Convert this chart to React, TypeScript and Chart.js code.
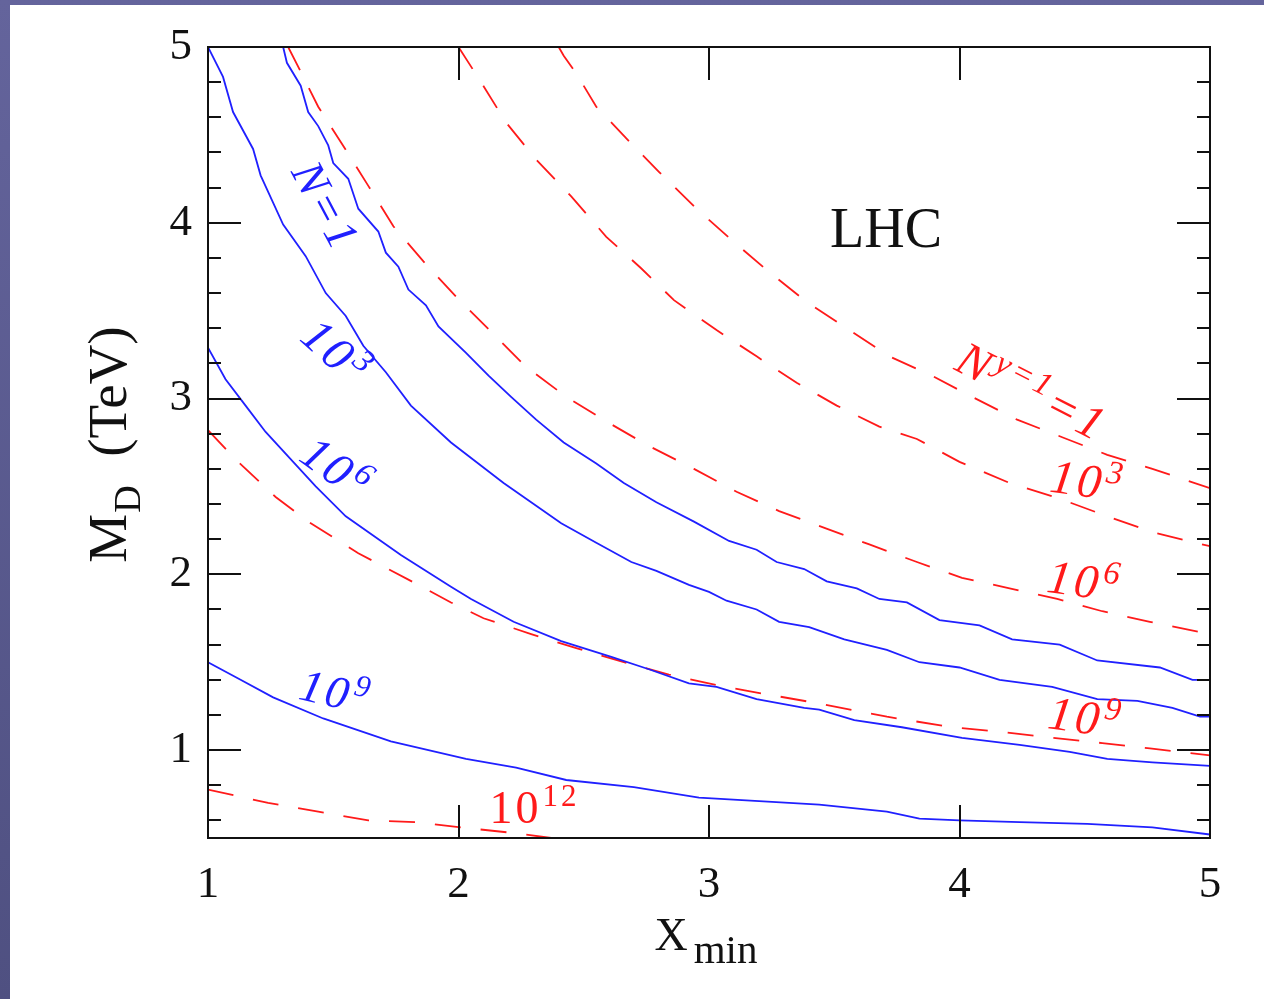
import React, { useEffect, useRef } from "react";
import { Chart, registerables } from "chart.js";

Chart.register(...registerables);

// ---- axis ticks ----
const xMajorTicks = [1, 2, 3, 4, 5];
const yMajorTicks = [1, 2, 3, 4, 5];
const yMinorTicks = [0.6, 0.8, 1.2, 1.4, 1.6, 1.8, 2.2, 2.4, 2.6, 2.8, 3.2, 3.4, 3.6, 3.8, 4.2, 4.4, 4.6, 4.8];

// ---- blue solid curves (N = 1, 10^3, 10^6, 10^9) ----
const blueN1X = [1.30, 1.315, 1.37, 1.40, 1.44, 1.48, 1.50, 1.56, 1.60, 1.68, 1.71, 1.76, 1.80, 1.87, 1.92, 2.03, 2.12, 2.21, 2.31, 2.42, 2.55, 2.66, 2.79, 2.94, 3.08, 3.19, 3.27, 3.38, 3.47, 3.59, 3.68, 3.79, 3.92, 4.08, 4.21, 4.40, 4.55, 4.80, 4.93, 5.00];
const blueN1Y = [5.00, 4.91, 4.78, 4.63, 4.55, 4.44, 4.34, 4.25, 4.08, 3.95, 3.83, 3.75, 3.62, 3.53, 3.41, 3.26, 3.13, 3.01, 2.88, 2.75, 2.63, 2.52, 2.41, 2.30, 2.19, 2.14, 2.07, 2.03, 1.96, 1.92, 1.86, 1.84, 1.74, 1.71, 1.63, 1.60, 1.51, 1.47, 1.40, 1.40];

const blueE3X = [1.00, 1.06, 1.10, 1.18, 1.21, 1.30, 1.39, 1.47, 1.55, 1.62, 1.71, 1.81, 1.97, 2.18, 2.41, 2.55, 2.69, 2.79, 2.92, 3.00, 3.07, 3.19, 3.28, 3.40, 3.54, 3.71, 3.84, 4.00, 4.16, 4.37, 4.55, 4.71, 4.85, 4.96, 5.00];
const blueE3Y = [5.00, 4.83, 4.63, 4.42, 4.27, 3.99, 3.81, 3.60, 3.47, 3.30, 3.15, 2.96, 2.75, 2.52, 2.29, 2.18, 2.07, 2.02, 1.94, 1.90, 1.85, 1.80, 1.73, 1.70, 1.63, 1.57, 1.50, 1.47, 1.40, 1.36, 1.29, 1.28, 1.24, 1.19, 1.19];

const blueE6X = [1.00, 1.07, 1.15, 1.23, 1.34, 1.43, 1.55, 1.77, 1.97, 2.05, 2.22, 2.41, 2.61, 2.76, 2.92, 3.03, 3.19, 3.38, 3.44, 3.58, 3.77, 4.01, 4.24, 4.44, 4.59, 4.77, 5.00];
const blueE6Y = [3.29, 3.11, 2.96, 2.81, 2.64, 2.50, 2.33, 2.11, 1.93, 1.86, 1.73, 1.62, 1.53, 1.46, 1.38, 1.36, 1.29, 1.24, 1.23, 1.17, 1.13, 1.07, 1.03, 0.99, 0.95, 0.93, 0.91];

const blueE9X = [1.00, 1.13, 1.26, 1.46, 1.73, 2.03, 2.23, 2.43, 2.70, 2.96, 3.20, 3.44, 3.71, 3.84, 4.00, 4.24, 4.51, 4.77, 5.00];
const blueE9Y = [1.50, 1.40, 1.30, 1.18, 1.05, 0.95, 0.90, 0.83, 0.79, 0.73, 0.71, 0.69, 0.65, 0.61, 0.60, 0.59, 0.58, 0.56, 0.52];

// ---- red dashed curves (N^{y=1} = 1, 10^3, 10^6, 10^9, 10^12) ----
const redN1X = [2.40, 2.42, 2.47, 2.55, 2.67, 2.80, 2.95, 3.10, 3.24, 3.39, 3.56, 3.72, 3.89, 4.05, 4.23, 4.41, 4.59, 4.77, 5.00];
const redN1Y = [5.00, 4.95, 4.85, 4.66, 4.48, 4.29, 4.08, 3.89, 3.72, 3.55, 3.39, 3.24, 3.13, 3.01, 2.88, 2.78, 2.68, 2.60, 2.49];

const redE3X = [2.00, 2.09, 2.19, 2.31, 2.45, 2.59, 2.73, 2.86, 3.03, 3.19, 3.35, 3.51, 3.68, 3.83, 4.00, 4.20, 4.40, 4.59, 4.77, 5.00];
const redE3Y = [5.00, 4.80, 4.57, 4.36, 4.15, 3.92, 3.74, 3.56, 3.39, 3.24, 3.09, 2.96, 2.84, 2.77, 2.64, 2.52, 2.43, 2.33, 2.24, 2.16];

const redE6X = [1.32, 1.37, 1.44, 1.53, 1.64, 1.74, 1.86, 1.99, 2.13, 2.27, 2.43, 2.59, 2.76, 2.94, 3.11, 3.28, 3.45, 3.64, 3.83, 4.01, 4.20, 4.39, 4.57, 4.76, 5.00];
const redE6Y = [5.00, 4.86, 4.66, 4.46, 4.21, 3.98, 3.78, 3.58, 3.38, 3.18, 3.01, 2.87, 2.73, 2.60, 2.47, 2.36, 2.27, 2.17, 2.07, 1.98, 1.92, 1.86, 1.79, 1.73, 1.66];

const redE9X = [1.00, 1.12, 1.27, 1.40, 1.60, 1.80, 1.97, 2.10, 2.29, 2.47, 2.66, 2.84, 3.03, 3.22, 3.42, 3.71, 3.97, 4.19, 4.37, 4.57, 4.76, 5.00];
const redE9Y = [2.82, 2.64, 2.44, 2.30, 2.12, 1.97, 1.84, 1.75, 1.66, 1.58, 1.50, 1.43, 1.37, 1.32, 1.27, 1.19, 1.13, 1.10, 1.07, 1.04, 1.01, 0.97];

const redE12X = [1.00, 1.24, 1.44, 1.64, 1.83, 2.01, 2.21, 2.37];
const redE12Y = [0.775, 0.70, 0.65, 0.60, 0.59, 0.56, 0.53, 0.50];

// ---- curve labels at data coordinates ----
const BLUE = "#2020ff";
const RED = "#ff1a1a";
const SERIF = '"Liberation Serif", "DejaVu Serif", serif';

type Label = { x: number; y: number; rot: number; color: string; base: string; sup: string; tail: string; size: number; italic: boolean };
const curveLabels: Label[] = [
  { x: 1.471, y: 4.095, rot: 62, color: BLUE, base: "N=1", sup: "", tail: "", size: 46, italic: true },
  { x: 1.515, y: 3.26, rot: 42, color: BLUE, base: "10", sup: "3", tail: "", size: 48, italic: true },
  { x: 1.515, y: 2.60, rot: 36, color: BLUE, base: "10", sup: "6", tail: "", size: 48, italic: true },
  { x: 1.511, y: 1.33, rot: 13, color: BLUE, base: "10", sup: "9", tail: "", size: 46, italic: true },
  { x: 4.29, y: 3.04, rot: 27, color: RED, base: "N", sup: "y=1", tail: "=1", size: 48, italic: true },
  { x: 4.513, y: 2.53, rot: 8, color: RED, base: "10", sup: "3", tail: "", size: 48, italic: true },
  { x: 4.501, y: 1.96, rot: 8, color: RED, base: "10", sup: "6", tail: "", size: 48, italic: true },
  { x: 4.505, y: 1.185, rot: 8, color: RED, base: "10", sup: "9", tail: "", size: 48, italic: true },
  { x: 2.305, y: 0.672, rot: 0, color: RED, base: "10", sup: "12", tail: "", size: 46, italic: false },
];

function zip(xs: number[], ys: number[]) {
  return xs.map((x, i) => ({ x, y: ys[i] }));
}

function drawLabel(ctx: CanvasRenderingContext2D, cx: number, cy: number, l: Label) {
  const st = l.italic ? "italic " : "";
  const fb = `${st}${l.size}px ${SERIF}`;
  const fs = `${st}${Math.round(l.size * 0.68)}px ${SERIF}`;
  ctx.save();
  ctx.translate(cx, cy);
  ctx.rotate((l.rot * Math.PI) / 180);
  ctx.fillStyle = l.color;
  ctx.textBaseline = "alphabetic";
  ctx.textAlign = "left";
  (ctx as any).letterSpacing = "3px";
  ctx.font = fb;
  const wb = ctx.measureText(l.base).width;
  const wt = l.tail ? ctx.measureText(l.tail).width : 0;
  ctx.font = fs;
  const ws = l.sup ? ctx.measureText(l.sup).width : 0;
  const total = wb + ws + wt + (l.sup ? 2 : 0);
  let px = -total / 2;
  const bl = l.size * 0.33;
  ctx.font = fb;
  ctx.fillText(l.base, px, bl);
  px += wb + 1;
  if (l.sup) {
    ctx.font = fs;
    ctx.fillText(l.sup, px, bl - l.size * 0.36);
    px += ws + 1;
  }
  if (l.tail) {
    ctx.font = fb;
    ctx.fillText(l.tail, px, bl);
  }
  ctx.restore();
}

const decorPlugin = {
  id: "decor",
  beforeDraw(chart: any) {
    const ctx = chart.ctx as CanvasRenderingContext2D;
    const W = chart.width, H = chart.height;
    ctx.save();
    const g = ctx.createLinearGradient(0, 0, 0, H);
    g.addColorStop(0, "#64649c");
    g.addColorStop(1, "#4f5081");
    ctx.fillStyle = g;
    ctx.fillRect(0, 0, W, H);
    ctx.fillStyle = "#ffffff";
    ctx.fillRect(10, 5, W - 10, H - 5);
    ctx.restore();
  },
  afterDatasetsDraw(chart: any) {
    const ctx = chart.ctx as CanvasRenderingContext2D;
    const ca = chart.chartArea;
    const xs = chart.scales.x;
    const ys = chart.scales.y;
    ctx.save();
    ctx.strokeStyle = "#111";
    ctx.lineWidth = 2;
    ctx.strokeRect(ca.left, ca.top, ca.right - ca.left, ca.bottom - ca.top);
    ctx.beginPath();
    const major = 33, minor = 13;
    for (const v of xMajorTicks) {
      const p = Math.round(xs.getPixelForValue(v));
      ctx.moveTo(p, ca.bottom); ctx.lineTo(p, ca.bottom - major);
      ctx.moveTo(p, ca.top); ctx.lineTo(p, ca.top + major);
    }
    for (const v of yMajorTicks) {
      const p = Math.round(ys.getPixelForValue(v));
      ctx.moveTo(ca.left, p); ctx.lineTo(ca.left + major, p);
      ctx.moveTo(ca.right, p); ctx.lineTo(ca.right - major, p);
    }
    for (const v of yMinorTicks) {
      const p = Math.round(ys.getPixelForValue(v));
      ctx.moveTo(ca.left, p); ctx.lineTo(ca.left + minor, p);
      ctx.moveTo(ca.right, p); ctx.lineTo(ca.right - minor, p);
    }
    ctx.stroke();

    // curve labels
    for (const l of curveLabels) {
      drawLabel(ctx, xs.getPixelForValue(l.x), ys.getPixelForValue(l.y), l);
    }

    // LHC
    ctx.fillStyle = "#111";
    ctx.font = `56px ${SERIF}`;
    ctx.textAlign = "left";
    ctx.textBaseline = "alphabetic";
    ctx.fillText("LHC", xs.getPixelForValue(3.483), ys.getPixelForValue(3.861));

    // X axis title: X_min
    const cxm = (ca.left + ca.right) / 2 - 3;
    const bx = ca.bottom + 112;
    ctx.font = `46px ${SERIF}`;
    const wX = ctx.measureText("X").width;
    ctx.font = `41px ${SERIF}`;
    const wMin = ctx.measureText("min").width;
    const sx = cxm - (wX + wMin + 6) / 2;
    ctx.font = `46px ${SERIF}`;
    ctx.fillText("X", sx, bx);
    ctx.font = `41px ${SERIF}`;
    ctx.fillText("min", sx + wX + 6, bx + 13);

    // Y axis title: M_D (TeV)
    ctx.save();
    ctx.translate(ca.left - 82, (ca.top + ca.bottom) / 2 + 2);
    ctx.rotate(-Math.PI / 2);
    ctx.font = `55px ${SERIF}`;
    const wM = ctx.measureText("M").width;
    const wT = ctx.measureText("  (TeV)").width;
    ctx.font = `38px ${SERIF}`;
    const wD = ctx.measureText("D").width;
    const ty = -(wM + wD + wT + 2) / 2;
    ctx.font = `55px ${SERIF}`;
    ctx.fillText("M", ty, 0);
    ctx.font = `38px ${SERIF}`;
    ctx.fillText("D", ty + wM + 1, 14);
    ctx.font = `55px ${SERIF}`;
    ctx.fillText("  (TeV)", ty + wM + wD + 2, 0);
    ctx.restore();

    ctx.restore();
  },
};

export default function App() {
  const ref = useRef<HTMLCanvasElement | null>(null);
  useEffect(() => {
    if (!ref.current) return;
    const mkBlue = (xsA: number[], ysA: number[], label: string) => ({
      label,
      data: zip(xsA, ysA),
      showLine: true,
      borderColor: BLUE,
      borderWidth: 1.8,
      pointRadius: 0,
      tension: 0,
      fill: false,
    });
    const mkRed = (xsA: number[], ysA: number[], label: string) => ({
      label,
      data: zip(xsA, ysA),
      showLine: true,
      borderColor: RED,
      borderWidth: 1.8,
      borderDash: [26, 20],
      pointRadius: 0,
      tension: 0,
      fill: false,
    });
    const chart = new Chart(ref.current, {
      type: "scatter",
      data: {
        datasets: [
          mkBlue(blueN1X, blueN1Y, "N=1"),
          mkBlue(blueE3X, blueE3Y, "N=1e3"),
          mkBlue(blueE6X, blueE6Y, "N=1e6"),
          mkBlue(blueE9X, blueE9Y, "N=1e9"),
          mkRed(redN1X, redN1Y, "Ny=1"),
          mkRed(redE3X, redE3Y, "Ny=1e3"),
          mkRed(redE6X, redE6Y, "Ny=1e6"),
          mkRed(redE9X, redE9Y, "Ny=1e9"),
          mkRed(redE12X, redE12Y, "Ny=1e12"),
        ] as any,
      },
      options: {
        animation: false,
        responsive: false,
        devicePixelRatio: 1,
        layout: { padding: { left: 0, right: 54, top: 47, bottom: 0 } },
        plugins: { legend: { display: false }, tooltip: { enabled: false } },
        events: [],
        scales: {
          x: {
            type: "linear",
            min: 1,
            max: 5,
            grid: { display: false, drawTicks: false },
            border: { display: false },
            afterBuildTicks: (s: any) => { s.ticks = xMajorTicks.map((v) => ({ value: v })); },
            afterFit: (s: any) => { s.height = 161; },
            ticks: {
              padding: 20,
              color: "#111",
              font: { family: SERIF, size: 45 },
              maxRotation: 0,
              callback: (v: any) => String(v),
            },
          },
          y: {
            type: "linear",
            min: 0.5,
            max: 5,
            grid: { display: false, drawTicks: false },
            border: { display: false },
            afterBuildTicks: (s: any) => { s.ticks = yMajorTicks.map((v) => ({ value: v })); },
            afterFit: (s: any) => { s.width = 208; },
            ticks: {
              padding: 16,
              color: "#111",
              font: { family: SERIF, size: 45 },
              callback: (v: any) => String(v),
            },
          },
        },
      },
      plugins: [decorPlugin as any],
    });
    return () => chart.destroy();
  }, []);
  return (
    <div style={{ position: "fixed", left: 0, top: 0, width: 1264, height: 999, overflow: "hidden" }}>
      <canvas ref={ref} width={1264} height={999} style={{ display: "block", width: 1264, height: 999 }} />
    </div>
  );
}
